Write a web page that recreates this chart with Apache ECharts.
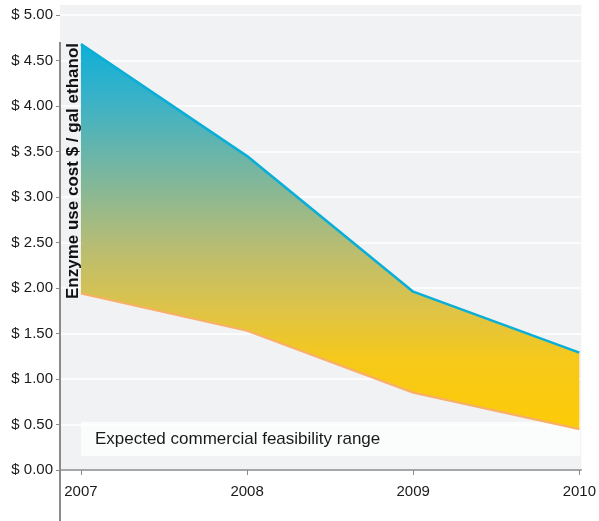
<!DOCTYPE html>
<html>
<head>
<meta charset="utf-8">
<script src="https://cdn.jsdelivr.net/npm/echarts@6/dist/echarts.min.js"></script>
<style>
  html, body { margin: 0; padding: 0; background: #ffffff; }
  #chart { width: 599px; height: 521px; }
</style>
</head>
<body>
<div id="chart"></div>
<script>
// Enzyme cost per gallon of ethanol, high and low estimates by year
var years = [2007, 2008, 2009, 2010];
var highCost = [4.68, 3.45, 1.96, 1.29];
var lowCost = [1.94, 1.53, 0.85, 0.45];
var yTicks = [0, 0.5, 1, 1.5, 2, 2.5, 3, 3.5, 4, 4.5, 5];
var feasibleRange = [0.155, 0.53];
var rangeLabel = 'Expected commercial feasibility range';
var yTitle = 'Enzyme use cost $ / gal ethanol';

var font = '"Liberation Sans", Arial, Helvetica, sans-serif';

var highPairs = years.map(function (y, i) { return [y, highCost[i]]; });
var lowPairs = years.map(function (y, i) { return [y, lowCost[i]]; });

var bandGradient = new echarts.graphic.LinearGradient(0, 0, 0, 1, [
  { offset: 0, color: '#0eafd8' },
  { offset: 0.15, color: '#3cb2c6' },
  { offset: 0.33, color: '#78b6a0' },
  { offset: 0.53, color: '#b9bd72' },
  { offset: 0.68, color: '#dcc34a' },
  { offset: 0.82, color: '#f6c91a' },
  { offset: 1, color: '#fdcb06' }
]);

// the band between the two estimates, as one polygon in axis coordinates
function renderBand(params, api) {
  var pts = [];
  for (var i = 0; i < years.length; i++) pts.push(api.coord([years[i], highCost[i]]));
  for (var j = years.length - 1; j >= 0; j--) pts.push(api.coord([years[j], lowCost[j]]));
  return {
    type: 'polygon',
    shape: { points: pts },
    style: { fill: bandGradient, stroke: null }
  };
}

var chart = echarts.init(document.getElementById('chart'), null, { renderer: 'canvas' });

chart.setOption({
  animation: false,
  backgroundColor: '#ffffff',
  grid: {
    left: 60, right: 15, top: 5, bottom: 51,
    show: true, backgroundColor: '#f1f2f4', borderWidth: 0
  },
  xAxis: {
    type: 'value',
    min: 2006.874,
    max: 2010.012,
    axisLine: { show: true, lineStyle: { color: '#8a8a8a', width: 1.5 } },
    axisTick: { show: true, length: 5, customValues: years, lineStyle: { color: '#8a8a8a', width: 1 } },
    axisLabel: {
      customValues: years, margin: 14, color: '#1a1a1a',
      fontFamily: font, fontSize: 15,
      formatter: function (v) { return String(v); }
    },
    splitLine: { show: false }
  },
  yAxis: {
    type: 'value',
    min: 0,
    max: 5.11,
    axisLine: { show: false },
    axisTick: { show: true, length: 4, customValues: yTicks, lineStyle: { color: '#8a8a8a', width: 1 } },
    axisLabel: {
      customValues: yTicks, margin: 7, color: '#1a1a1a',
      fontFamily: font, fontSize: 15,
      formatter: function (v) { return '$ ' + v.toFixed(2); }
    },
    splitLine: { show: true, lineStyle: { color: '#ffffff', width: 1.5 } }
  },
  graphic: [
    {
      type: 'line', z: 50,
      shape: { x1: 60, y1: 42, x2: 60, y2: 521 },
      style: { stroke: '#8a8a8a', lineWidth: 2 }
    },
    {
      type: 'text', z: 50,
      x: 73, y: 171, rotation: Math.PI / 2,
      style: {
        text: yTitle, fill: '#111111',
        font: 'bold 17px ' + font,
        align: 'center', verticalAlign: 'middle'
      }
    }
  ],
  series: [
    {
      name: 'band',
      type: 'custom',
      z: 2,
      data: [0],
      renderItem: renderBand
    },
    {
      name: 'low',
      type: 'line',
      z: 3,
      data: lowPairs,
      showSymbol: false,
      lineStyle: { color: '#f8b068', width: 2.2 }
    },
    {
      name: 'high',
      type: 'line',
      z: 3,
      data: highPairs,
      showSymbol: false,
      lineStyle: { color: '#0aaed7', width: 2.6 }
    },
    {
      name: 'range',
      type: 'line',
      z: 10,
      data: [],
      markArea: {
        silent: true,
        itemStyle: { color: 'rgba(255,255,255,0.72)' },
        label: {
          show: true, position: 'insideLeft', distance: 14,
          color: '#1a1a1a', fontFamily: font, fontSize: 17
        },
        data: [[
          { name: rangeLabel, coord: [years[0], feasibleRange[1]] },
          { coord: [years[years.length - 1] + 0.006, feasibleRange[0]] }
        ]]
      }
    }
  ]
});
</script>
</body>
</html>
